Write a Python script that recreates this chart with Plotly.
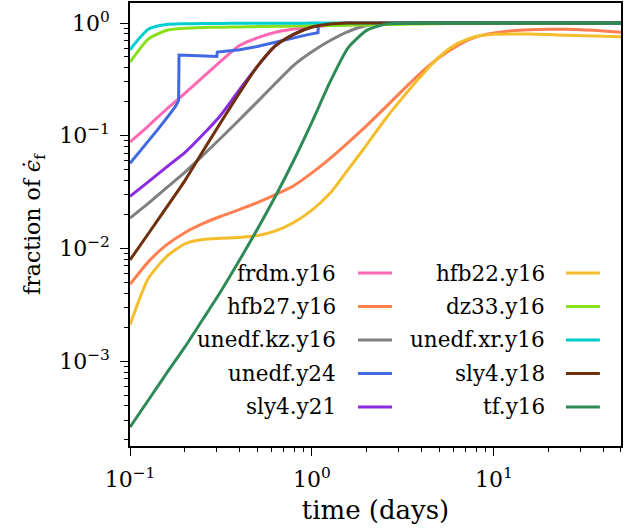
import plotly.graph_objects as go

# ---- data ----
names = ["frdm.y16", "hfb27.y16", "unedf.kz.y16", "unedf.y24", "sly4.y21",
         "hfb22.y16", "dz33.y16", "unedf.xr.y16", "sly4.y18", "tf.y16"]
colors = ["#FF69B4", "#FF7F50", "#808080", "#4169E1", "#8A2BE2",
          "#F3BD2B", "#86E01A", "#00CED1", "#6E300A", "#2E8B57"]

# common time grid (days)
t_grid = [0.1, 0.126, 0.158, 0.2, 0.251, 0.316, 0.398, 0.501, 0.631, 0.794, 1.0, 1.26, 1.58, 2.0,
          2.51, 3.16, 3.98, 5.01, 6.31, 7.94, 10.0, 12.6, 15.8, 20.0, 25.1, 31.6, 39.8, 50.0]

frdm_f = [0.088, 0.122, 0.171, 0.238, 0.33, 0.46, 0.63, 0.74, 0.83, 0.885, 0.925, 0.95, 0.97, 0.985,
          0.993, 0.997, 1.0, 1.0, 1.0, 1.0, 1.0, 1.0, 1.0, 1.0, 1.0, 1.0, 1.0, 1.0]
hfb27_f = [0.0048, 0.0076, 0.0107, 0.0138, 0.0166, 0.0193, 0.0221, 0.0255, 0.030, 0.036, 0.0468,
           0.063, 0.087, 0.123, 0.176, 0.254, 0.363, 0.495, 0.631, 0.75, 0.817, 0.855, 0.873, 0.882,
           0.88, 0.87, 0.852, 0.83]
kz_f = [0.0186, 0.0251, 0.0343, 0.0473, 0.0668, 0.0955, 0.138, 0.2, 0.292, 0.422, 0.556, 0.70, 0.84,
        0.95, 0.984, 0.996, 1.0, 1.0, 1.0, 1.0, 1.0, 1.0, 1.0, 1.0, 1.0, 1.0, 1.0, 1.0]
y21_f = [0.029, 0.039, 0.0525, 0.0708, 0.102, 0.153, 0.254, 0.412, 0.63, 0.794, 0.923, 0.982, 1.0,
         1.0, 1.0, 1.0, 1.0, 1.0, 1.0, 1.0, 1.0, 1.0, 1.0, 1.0, 1.0, 1.0, 1.0, 1.0]
hfb22_f = [0.0021, 0.0054, 0.0084, 0.011, 0.012, 0.0123, 0.0125, 0.0130, 0.0143, 0.017, 0.0219,
           0.031, 0.050, 0.083, 0.138, 0.219, 0.339, 0.50, 0.66, 0.76, 0.795, 0.80, 0.80, 0.79,
           0.78, 0.77, 0.762, 0.755]
dz33_f = [0.45, 0.72, 0.86, 0.90, 0.915, 0.92, 0.925, 0.93, 0.935, 0.94, 0.945, 0.95, 0.957, 0.963,
          0.97, 0.976, 0.982, 0.987, 0.99, 0.993, 0.995, 0.997, 0.998, 0.999, 1.0, 1.0, 1.0, 1.0]
xr_f = [0.58, 0.88, 0.97, 0.985, 0.99, 0.993, 0.995, 0.996, 0.997, 0.998, 0.999, 1.0, 1.0, 1.0,
        1.0, 1.0, 1.0, 1.0, 1.0, 1.0, 1.0, 1.0, 1.0, 1.0, 1.0, 1.0, 1.0, 1.0]
y18_f = [0.0079, 0.0135, 0.0229, 0.0398, 0.0724, 0.132, 0.237, 0.412, 0.63, 0.794, 0.923, 0.982, 1.0,
         1.0, 1.0, 1.0, 1.0, 1.0, 1.0, 1.0, 1.0, 1.0, 1.0, 1.0, 1.0, 1.0, 1.0, 1.0]
tf_f = [0.00026, 0.00045, 0.00077, 0.00133, 0.00234, 0.00417, 0.00776, 0.0148, 0.0292, 0.0603,
        0.132, 0.302, 0.603, 0.861, 0.973, 0.995, 1.0, 1.0, 1.0, 1.0, 1.0, 1.0, 1.0, 1.0, 1.0, 1.0,
        1.0, 1.0]

# unedf.y24 has jumps, so it keeps its own time samples
y24_t = [0.1, 0.12, 0.143, 0.165, 0.177, 0.185, 0.186, 0.22, 0.25, 0.30, 0.302, 0.4, 0.5, 0.61,
         0.8, 0.95, 1.08, 1.085]
y24_f = [0.057, 0.081, 0.115, 0.155, 0.18, 0.205, 0.52, 0.515, 0.51, 0.505, 0.553, 0.58, 0.62, 0.67,
         0.745, 0.79, 0.82, 0.93]

series_t = [t_grid, t_grid, t_grid, y24_t, t_grid, t_grid, t_grid, t_grid, t_grid, t_grid]
series_f = [frdm_f, hfb27_f, kz_f, y24_f, y21_f, hfb22_f, dz33_f, xr_f, y18_f, tf_f]
smooth = [True, True, True, False, True, True, True, True, True, True]

x_tickvals = [0.1, 1, 10]
x_ticktext = ["10<sup>−1</sup>", "10<sup>0</sup>", "10<sup>1</sup>"]
y_tickvals = [0.001, 0.01, 0.1, 1]
y_ticktext = ["10<sup>−3</sup>", "10<sup>−2</sup>", "10<sup>−1</sup>", "10<sup>0</sup>"]

FONT = "DejaVu Serif"
LEG_FS = 21.5
TICK_FS = 22
XTITLE_FS = 26
YTITLE_FS = 22

fig = go.Figure()
for n, c, t, f, s in zip(names, colors, series_t, series_f, smooth):
    fig.add_trace(go.Scatter(
        x=t, y=f, mode="lines", name=n, showlegend=False,
        line=dict(color=c, width=3, shape="spline" if s else "linear", smoothing=0.6)))

# custom legend: text on the left, line sample on the right (two columns)
ann = []
shapes = []
rows = 5
col_text_x = [0.4236, 0.849]
col_line_x = [(0.4644, 0.5336), (0.888, 0.957)]
row_y0, row_dy = 0.3905, 0.0756
for i, (n, c) in enumerate(zip(names, colors)):
    col, row = divmod(i, rows)
    yy = row_y0 - row * row_dy
    ann.append(dict(text=n, x=col_text_x[col], y=yy, xref="paper", yref="paper",
                    xanchor="right", yanchor="middle", showarrow=False,
                    font=dict(family=FONT, size=LEG_FS, color="black")))
    x0, x1 = col_line_x[col]
    shapes.append(dict(type="line", xref="paper", yref="paper", x0=x0, x1=x1, y0=yy, y1=yy,
                       line=dict(color=c, width=3)))

minor_x = [m * 10 ** k for k in (-1, 0, 1) for m in range(2, 10) if m * 10 ** k <= 50]
minor_y = [m * 10 ** k for k in (-4, -3, -2, -1, 0) for m in range(2, 10)
           if 1.7e-4 <= m * 10 ** k <= 1.5]

axis_common = dict(type="log", showline=True, linecolor="black", linewidth=1.5, mirror=True,
                   showgrid=False, zeroline=False, ticks="outside", ticklen=8, tickwidth=1.2,
                   tickcolor="black", tickmode="array", automargin=False,
                   tickfont=dict(family=FONT, size=TICK_FS, color="black"))

fig.update_layout(
    width=638, height=529,
    margin=dict(l=130, r=17, t=3, b=83),
    paper_bgcolor="white", plot_bgcolor="white",
    annotations=ann, shapes=shapes,
    xaxis=dict(**axis_common, range=[-1, 1.699], tickvals=x_tickvals, ticktext=x_ticktext,
               ticklabelstandoff=5,
               minor=dict(tickvals=minor_x, ticks="outside", ticklen=4, tickwidth=1, tickcolor="black"),
               title=dict(text="time (days)", font=dict(family=FONT, size=XTITLE_FS, color="black"),
                          standoff=10)),
    yaxis=dict(**axis_common, range=[-3.753, 0.178], tickvals=y_tickvals, ticktext=y_ticktext,
               ticklabelstandoff=6,
               minor=dict(tickvals=minor_y, ticks="outside", ticklen=4, tickwidth=1, tickcolor="black"),
               title=dict(text="fraction of <i>ϵ̇</i><sub>f</sub>",
                          font=dict(family=FONT, size=YTITLE_FS, color="black"), standoff=12)),
)

fig.write_html("out.html", config={"displayModeBar": False},
               post_script="document.body.style.margin='0px';")
